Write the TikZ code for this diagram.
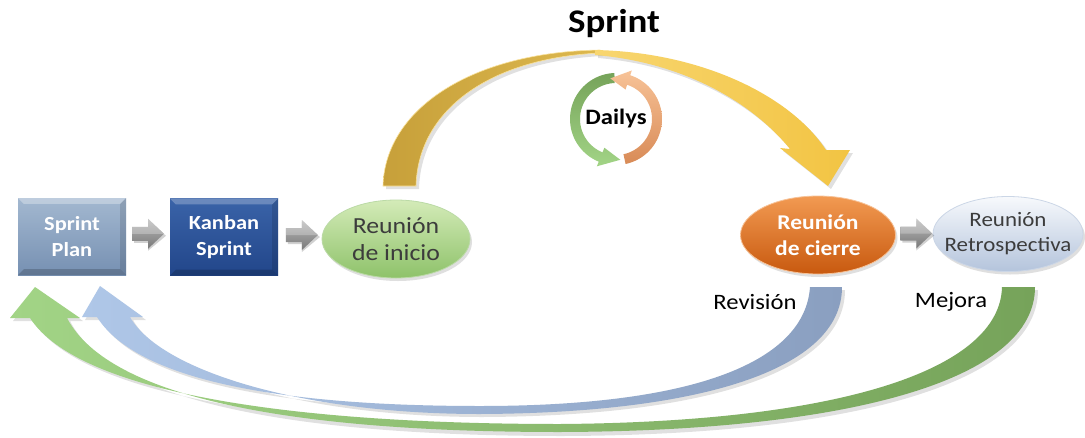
\documentclass[tikz,border=0pt]{standalone}
\usepackage{fontspec}
\setmainfont[FakeStretch=1.12]{Carlito}
\usetikzlibrary{shapes.geometric,shadows,calc}

\definecolor{planA}{HTML}{A3B8D0}
\definecolor{planB}{HTML}{7690B2}
\definecolor{kanA}{HTML}{3A63A8}
\definecolor{kanB}{HTML}{22468A}
\definecolor{iniA}{HTML}{D4EBB8}
\definecolor{iniB}{HTML}{8EC26A}
\definecolor{cieA}{HTML}{F29A52}
\definecolor{cieB}{HTML}{C8590F}
\definecolor{retA}{HTML}{F7F9FC}
\definecolor{retB}{HTML}{B4C4DC}
\definecolor{goldA}{HTML}{C7A03A}
\definecolor{goldB}{HTML}{DDB84E}
\definecolor{yelA}{HTML}{F8D670}
\definecolor{yelB}{HTML}{F2C443}
\definecolor{revA}{HTML}{AFC7E8}
\definecolor{revB}{HTML}{8A9FC0}
\definecolor{mejA}{HTML}{A2D486}
\definecolor{mejB}{HTML}{76A35A}
\definecolor{txtgray}{HTML}{3C3C3C}

\begin{document}
\begin{tikzpicture}[x=1pt,y=-1pt,
  box/.style={rectangle,minimum width=108pt,minimum height=77pt,inner sep=0pt,
    align=center,text=white,font=\fontsize{20}{26}\selectfont\bfseries},
  oval/.style={ellipse,inner sep=0pt,
    drop shadow={shadow xshift=2pt,shadow yshift=-3pt,opacity=.25}},
  label/.style={align=center,inner sep=0pt},
  ribshadow/.style={fill=black,opacity=.12},
  garrow/.pic={
    \fill[black,opacity=.18] (-14,-5) -- (0,-5) -- (0,-13) -- (18,2) -- (0,17) -- (0,9) -- (-14,9) -- cycle;
    \shade[top color=gray!55,bottom color=gray!95!black] (-16,-7) -- (0,-7) -- (0,-15) -- (16,0) -- (0,15) -- (0,7) -- (-16,7) -- cycle;
    \fill[white,opacity=.25] (-16,-7) -- (0,-7) -- (0,-15) -- (16,0) -- (0,0) -- (-16,0) -- cycle;
  }]

\useasboundingbox[fill=white] (0,0) rectangle (1085,437);

% ---------- title ----------
\node[font=\fontsize{33}{36}\selectfont\bfseries, anchor=base] (title) at (614,32) {Sprint};

% ---------- process boxes ----------
\node[box, top color=planA, bottom color=planB] (sp) at (72,236.5) {};
\fill[white,opacity=.3] (sp.north west) -- (sp.north east) -- ([xshift=-6pt,yshift=-6pt]sp.north east) -- ([xshift=6pt,yshift=-6pt]sp.north west) -- cycle;
\fill[black,opacity=.12] (sp.north east) -- (sp.south east) -- ([xshift=-6pt,yshift=6pt]sp.south east) -- ([xshift=-6pt,yshift=-6pt]sp.north east) -- cycle;
\fill[black,opacity=.18] (sp.south west) -- (sp.south east) -- ([xshift=-6pt,yshift=6pt]sp.south east) -- ([xshift=6pt,yshift=6pt]sp.south west) -- cycle;
\node[box] (spt) at (sp.center) {Sprint\\Plan};

\node[box, top color=kanA, bottom color=kanB] (kb) at (224,237) {};
\fill[white,opacity=.25] (kb.north west) -- (kb.north east) -- ([xshift=-6pt,yshift=-6pt]kb.north east) -- ([xshift=6pt,yshift=-6pt]kb.north west) -- cycle;
\fill[black,opacity=.12] (kb.north east) -- (kb.south east) -- ([xshift=-6pt,yshift=6pt]kb.south east) -- ([xshift=-6pt,yshift=-6pt]kb.north east) -- cycle;
\fill[black,opacity=.18] (kb.south west) -- (kb.south east) -- ([xshift=-6pt,yshift=6pt]kb.south east) -- ([xshift=6pt,yshift=6pt]kb.south west) -- cycle;
\node[box] (kbt) at (kb.center) {Kanban\\Sprint};

% ---------- meetings ----------
\node[oval, minimum width=148pt, minimum height=78pt, top color=iniA, bottom color=iniB,
  draw=iniB!60!white, line width=.8pt] (ini) at (396,239) {};
\node[label, text=txtgray, font=\fontsize{23}{27}\selectfont] (init) at (ini.center) {Reunión\\de inicio};

\node[oval, minimum width=155pt, minimum height=78pt, top color=cieA, bottom color=cieB,
  draw=cieA!60!white, line width=.8pt] (cie) at (818,235) {};
\node[label, text=white, font=\fontsize{21}{26}\selectfont\bfseries] (ciet) at (cie.center) {Reunión\\de cierre};

\node[oval, minimum width=150pt, minimum height=75pt, top color=retA, bottom color=retB,
  draw=retB!70!white, line width=.8pt] (ret) at (1008,234) {};
\node[label, text=txtgray, font=\fontsize{20.5}{25}\selectfont] (rett) at (ret.center) {Reunión\\Retrospectiva};

% ---------- block arrows between steps ----------
\pic at ($(sp.east)!0.5!(kb.west)+(0,-3)$) {garrow};
\pic at ($(kb.east)!0.5!(ini.west)+(2,-3)$) {garrow};
\pic at ($(cie.east)!0.5!(ret.west)+(2,-1)$) {garrow};

% ---------- sprint arch ----------
\coordinate (archR) at (828,186);
% left (gold) half
\fill[ribshadow] (386,189) .. controls (388,113) and (473,55) .. (603,53) -- (603,56) .. controls (493,61) and (421,113) .. (419,189) -- cycle;
\shade[left color=goldA, right color=goldB, draw=yelA!70!white, line width=.6pt]
  (383,186) .. controls (385,110) and (470,52) .. (600,50) -- (600,53)
  .. controls (490,58) and (418,110) .. (416,186) -- cycle;
% right (yellow) half with head
\fill[ribshadow] (598,53) .. controls (703,55) and (793,98) .. (829,153) -- (853,153) -- (831,189) -- (783,151) -- (793,152) .. controls (753,103) and (683,65) .. (598,58) -- cycle;
\shade[left color=yelA, right color=yelB]
  (595,50) .. controls (700,52) and (790,95) .. (826,150) -- (850,150) -- (archR)
  -- (780,148) -- (790,149) .. controls (750,100) and (680,62) .. (595,55) -- cycle;

% ---------- dailys cycle ----------
\coordinate (dc) at (616,119);
\shade[top color=mejB, bottom color=mejA]
  plot[domain=268:112,samples=40] ({616+46*cos(\x)},{119+46*sin(\x)})
  -- ({616+51*cos(112)},{119+51*sin(112)})
  -- ({616+41*cos(84)},{119+41*sin(84)})
  -- ({616+31*cos(112)},{119+31*sin(112)})
  -- plot[domain=112:268,samples=40] ({616+36*cos(\x)},{119+36*sin(\x)}) -- cycle;
\shade[top color=cieA!60!white, bottom color=cieB!70!white]
  plot[domain=78:-72,samples=40] ({616+46*cos(\x)},{119+46*sin(\x)})
  -- ({616+51*cos(-72)},{119+51*sin(-72)})
  -- ({616+41*cos(-98)},{119+41*sin(-98)})
  -- ({616+31*cos(-72)},{119+31*sin(-72)})
  -- plot[domain=-72:78,samples=40] ({616+36*cos(\x)},{119+36*sin(\x)}) -- cycle;
\node[font=\fontsize{22}{26}\selectfont\bfseries] (daily) at (dc) {Dailys};

% ---------- feedback arrows ----------
\node[font=\fontsize{22}{26}\selectfont, anchor=base] (rev) at (755,309) {Revisión};
\node[font=\fontsize{22}{26}\selectfont, anchor=base] (mej) at (951,307) {Mejora};

\coordinate (revE) at (100,286);
\coordinate (mejE) at (35,287);

% green (Mejora) back to Sprint Plan
\fill[ribshadow] (1038,290) .. controls (1038,383) and (853,435) .. (563,436)
  .. controls (303,436) and (113,404) .. (70,321) -- (83,321) -- (38,290) -- (13,321) -- (33,321)
  .. controls (83,398) and (303,428) .. (563,428) .. controls (843,426) and (1003,373) .. (1005,290) -- cycle;
\shade[left color=mejA, right color=mejB]
  (1035,287) .. controls (1035,380) and (850,431) .. (560,432)
  .. controls (300,432) and (110,400) .. (67,318) -- (80,318) -- (mejE) -- (10,318) -- (30,318)
  .. controls (80,395) and (300,424) .. (560,424) .. controls (840,422) and (1000,370) .. (1002,287) -- cycle;

% blue (Revisión) back to Sprint Plan
\fill[ribshadow] (845,290) .. controls (845,373) and (703,416) .. (483,417)
  .. controls (303,417) and (163,373) .. (133,320) -- (146,320) -- (103,289) -- (85,320) -- (100,320)
  .. controls (143,388) and (303,409) .. (483,409) .. controls (703,409) and (808,363) .. (813,290) -- cycle;
\shade[left color=revA, right color=revB]
  (842,287) .. controls (842,370) and (700,413) .. (480,414)
  .. controls (300,414) and (160,370) .. (130,317) -- (143,317) -- (revE) -- (82,317) -- (97,317)
  .. controls (140,385) and (300,406) .. (480,406) .. controls (700,406) and (805,360) .. (810,287) -- cycle;

\end{tikzpicture}
\end{document}
